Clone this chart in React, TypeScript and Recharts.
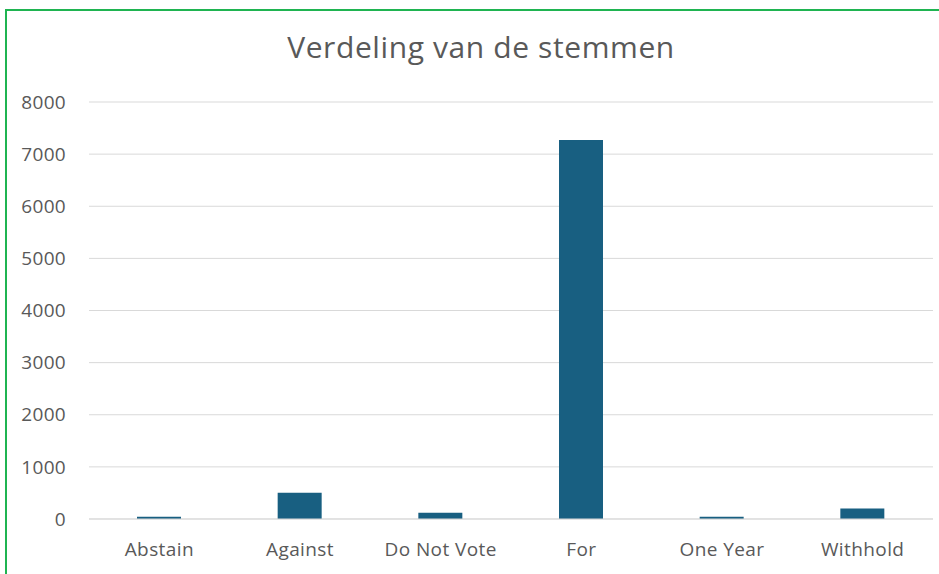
import React from "react";
import { BarChart, Bar, XAxis, YAxis, CartesianGrid } from "recharts";

const categories = ["Abstain", "Against", "Do Not Vote", "For", "One Year", "Withhold"];
const votes = [45, 505, 120, 7270, 45, 200];
const yTicks = [0, 1000, 2000, 3000, 4000, 5000, 6000, 7000, 8000];

const data = categories.map((name, i) => ({ name, votes: votes[i] }));

const FONT = "'Open Sans', sans-serif";
const TEXT = "#595959";

export default function App() {
  return (
    <div style={{ position: "absolute", left: 0, top: 0, width: 939, height: 574, background: "#fff", overflow: "hidden" }}>
      <BarChart
        width={939}
        height={574}
        data={data}
        margin={{ top: 102, right: 6, bottom: 0, left: 0 }}
        style={{ position: "absolute", left: 0, top: 0 }}
      >
        <CartesianGrid vertical={false} stroke="#d9d9d9" strokeWidth={1} />
        <XAxis
          dataKey="name"
          height={55}
          axisLine={{ stroke: "#d9d9d9" }}
          tickLine={false}
          tickSize={0}
          tickMargin={24}
          interval={0}
          tick={{ fill: TEXT, fontSize: 19, fontFamily: FONT, letterSpacing: 0.4 }}
        />
        <YAxis
          width={89}
          domain={[0, 8000]}
          ticks={yTicks}
          axisLine={false}
          tickLine={false}
          tickSize={0}
          tickMargin={23}
          tick={{ fill: TEXT, fontSize: 19, fontFamily: FONT, letterSpacing: 0.3 }}
        />
        <Bar dataKey="votes" fill="#185f81" barSize={44} isAnimationActive={false} />
      </BarChart>
      <svg width={939} height={574} style={{ position: "absolute", left: 0, top: 0, pointerEvents: "none" }}>
        <path d="M6,574 L6,10 L939,10" fill="none" stroke="#1fb451" strokeWidth={2} />
        <text x={481} y={58} textAnchor="middle" fill={TEXT} fontSize={30} fontFamily={FONT} letterSpacing={0.6}>
          Verdeling van de stemmen
        </text>
      </svg>
    </div>
  );
}
